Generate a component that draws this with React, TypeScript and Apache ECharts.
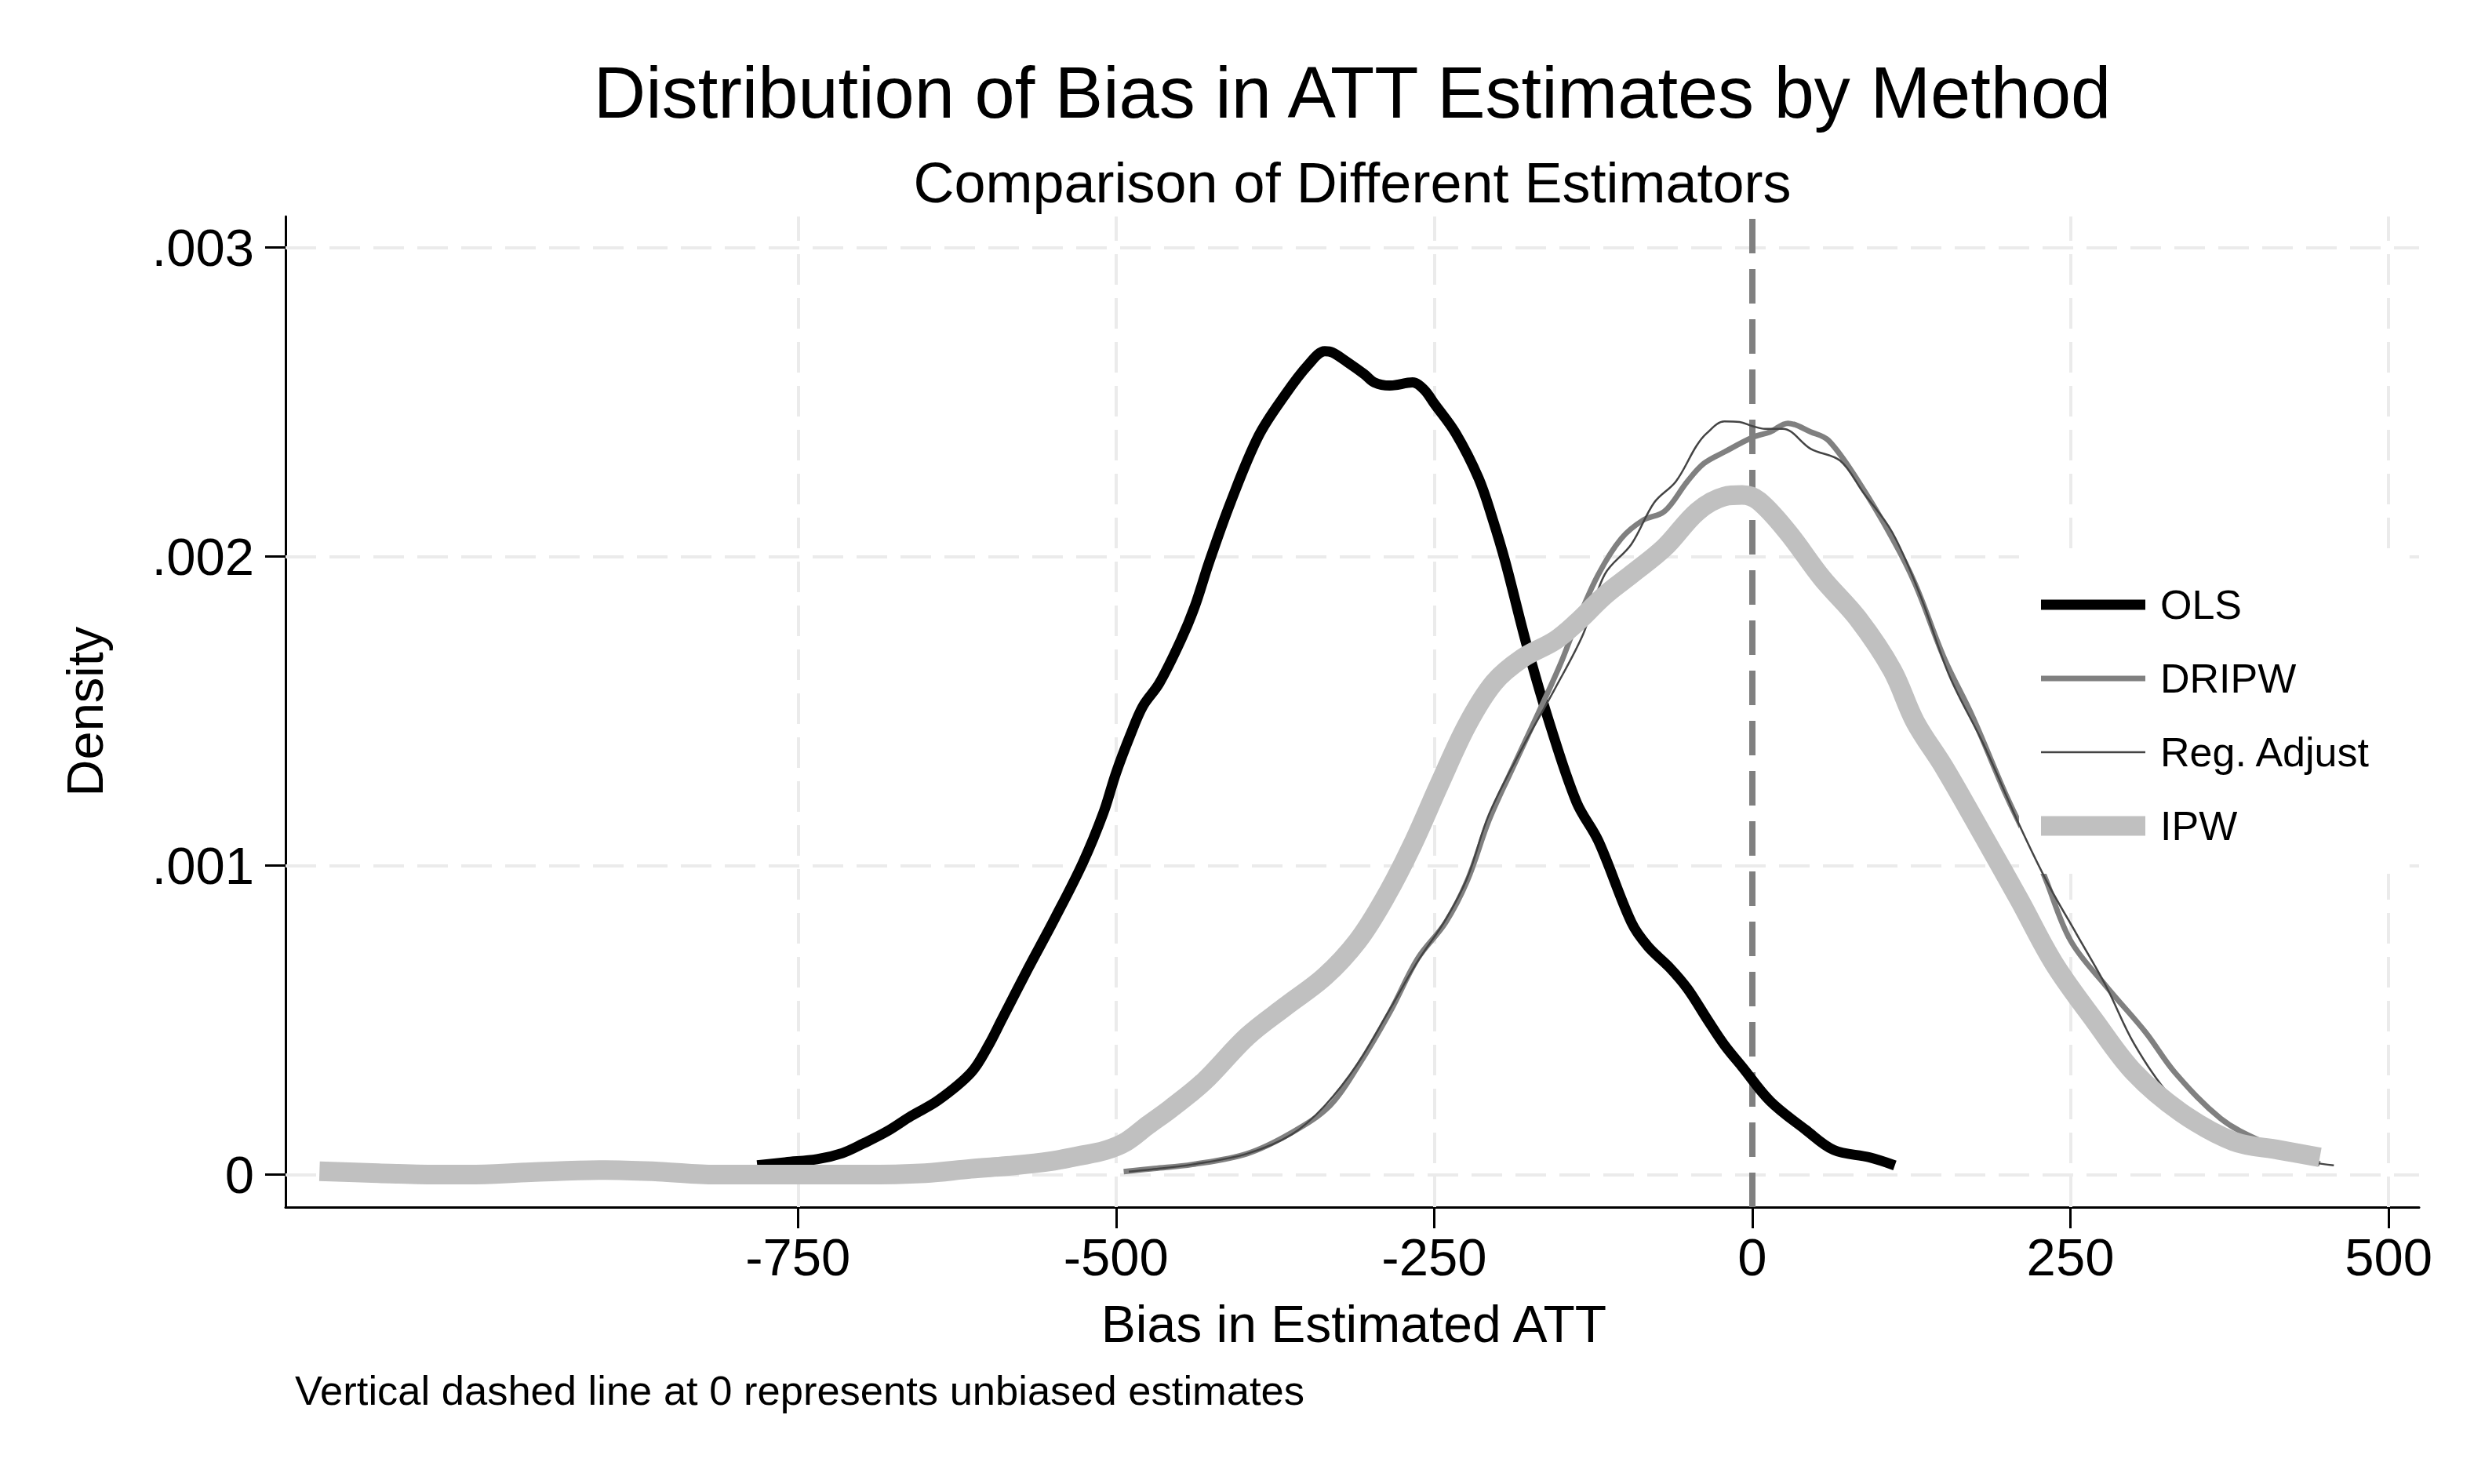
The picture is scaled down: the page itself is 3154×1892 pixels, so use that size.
import React, { useEffect, useRef } from "react";
import * as echarts from "echarts";

// ---------- data ----------
const methodNames = ["OLS", "DRIPW", "Reg. Adjust", "IPW"];

const xTickValues = [-750, -500, -250, 0, 250, 500];
const yTickValues = [0, 0.001, 0.002, 0.003];

const olsPoints: [number, number][] = [
  [-782, 0.00003], [-760, 0.00004], [-735, 0.00005], [-715, 0.00007], [-699, 0.0001],
  [-680, 0.00014], [-661, 0.00019], [-640, 0.00024], [-614, 0.00033], [-600, 0.00042],
  [-590, 0.0005], [-570, 0.00066], [-548, 0.00083], [-526, 0.00101], [-510, 0.00117],
  [-500, 0.0013], [-489, 0.00142], [-479, 0.001515], [-466, 0.00159], [-449, 0.00173],
  [-438, 0.00184], [-427, 0.00198], [-410, 0.002175], [-388, 0.00239], [-367, 0.002524],
  [-349, 0.00262], [-336, 0.002664], [-330, 0.00266], [-319, 0.002631], [-305, 0.00259],
  [-297, 0.002563], [-285, 0.002553], [-267, 0.002563], [-258, 0.00254], [-250, 0.002495],
  [-233, 0.002398], [-215, 0.002252], [-204, 0.00212], [-194, 0.001981], [-177, 0.001709],
  [-159, 0.001456], [-138, 0.001204], [-121, 0.00108], [-95, 0.000816], [-82, 0.000738],
  [-65, 0.00067], [-51, 0.000602], [-35, 0.0005], [-22, 0.00042], [-8, 0.000349],
  [14, 0.000238], [42, 0.000145], [64, 0.00008], [92, 0.000056], [112, 0.00003],
];

const dripwPoints: [number, number][] = [
  [-494, 0.00001], [-470, 0.00002], [-440, 0.000033], [-397, 0.000068], [-362, 0.000136],
  [-332, 0.000223], [-310, 0.00035], [-285, 0.000524], [-263, 0.000699], [-241, 0.000816],
  [-224, 0.000951], [-207, 0.001146], [-190, 0.001301], [-168, 0.001495], [-151, 0.00165],
  [-138, 0.001786], [-121, 0.001942], [-103, 0.002058], [-86, 0.002117], [-69, 0.002146],
  [-51, 0.002243], [-38, 0.002301], [-22, 0.002338], [0, 0.002385], [14, 0.002403],
  [28, 0.002431], [46, 0.002403], [60, 0.002375], [83, 0.002245], [110, 0.002059],
  [128, 0.001911], [151, 0.001669], [173, 0.001483], [200, 0.001223], [228, 0.000981],
  [250, 0.000758], [278, 0.00061], [309, 0.000461], [332, 0.000331], [368, 0.000182],
  [400, 0.000108], [446, 0.000035],
];

const regAdjPoints: [number, number][] = [
  [-490, 0.00001], [-474, 0.000016], [-440, 0.000033], [-397, 0.000068], [-362, 0.00013],
  [-336, 0.000223], [-310, 0.00036], [-285, 0.000534], [-263, 0.00069], [-241, 0.000825],
  [-224, 0.00096], [-207, 0.001165], [-181, 0.001379], [-155, 0.001573], [-133, 0.001748],
  [-116, 0.001942], [-95, 0.00204], [-77, 0.002175], [-60, 0.002243], [-44, 0.002357],
  [-36, 0.002398], [-22, 0.002437], [-10, 0.002435], [0, 0.002422], [10, 0.002413],
  [24, 0.002413], [46, 0.002348], [69, 0.00231], [87, 0.002208], [110, 0.002078],
  [132, 0.001874], [155, 0.001613], [182, 0.00139], [210, 0.00113], [232, 0.000944],
  [255, 0.000777], [278, 0.00061], [300, 0.000424], [328, 0.000257], [355, 0.000164],
  [400, 0.000099], [427, 0.000052], [457, 0.00003],
];

const ipwPoints: [number, number][] = [
  [-1126, 0.000011], [-1080, 0.000005], [-1031, 0.0], [-1009, 0.0], [-960, 0.000008],
  [-901, 0.000015], [-860, 0.00001], [-815, 0.0], [-760, 0.0], [-699, 0.0],
  [-650, 0.000005], [-614, 0.000019], [-580, 0.00003], [-552, 0.000043], [-530, 0.00006],
  [-509, 0.000078], [-492, 0.000107], [-475, 0.00016], [-457, 0.000214], [-431, 0.000301],
  [-397, 0.000447], [-367, 0.000544], [-336, 0.000641], [-310, 0.000757], [-289, 0.000893],
  [-267, 0.001068], [-246, 0.001262], [-224, 0.001456], [-203, 0.001592], [-181, 0.00167],
  [-155, 0.001728], [-138, 0.001786], [-116, 0.001874], [-95, 0.001942], [-69, 0.002029],
  [-43, 0.002146], [-22, 0.002194], [-8, 0.002199], [5, 0.00218], [28, 0.002078],
  [55, 0.001929], [83, 0.001799], [110, 0.001632], [128, 0.001465], [151, 0.001316],
  [182, 0.001093], [210, 0.000888], [237, 0.000684], [269, 0.000498], [300, 0.000331],
  [337, 0.000201], [378, 0.000108], [414, 0.00008], [446, 0.000056],
];

const seriesPoints = [olsPoints, dripwPoints, regAdjPoints, ipwPoints];

// ---------- styles ----------
const FONT = "'Liberation Sans', Arial, Helvetica, sans-serif";
const lineColors = ["#000000", "#808080", "#444444", "#c0c0c0"];
const lineWidths = [13, 7, 2.5, 25];
const legendIconW = 133;

function barIcon(h: number) {
  return `path://M0,0L${legendIconW},0L${legendIconW},${h}L0,${h}Z`;
}

export default function App() {
  const ref = useRef<HTMLDivElement>(null);

  useEffect(() => {
    if (!ref.current) return;
    const chart = echarts.init(ref.current, undefined, { renderer: "svg" });

    const gridColor = "#ebebeb";
    const gridLines: any[] = [];
    xTickValues
      .filter((v) => v !== 0)
      .forEach((v) => gridLines.push({ xAxis: v }));
    yTickValues.forEach((v) => gridLines.push({ yAxis: v }));
    gridLines.push({
      xAxis: 0,
      lineStyle: { color: "#808080", width: 8, type: [44, 20] },
    });

    const option: any = {
      animation: false,
      backgroundColor: "#ffffff",
      textStyle: { fontFamily: FONT },
      grid: {
        left: 364,
        top: 276,
        right: 70,
        bottom: 353,
        containLabel: false,
        outerBoundsMode: "none",
      },
      xAxis: {
        type: "value",
        min: -1152.7,
        max: 524,
        axisLine: { show: true, onZero: false, lineStyle: { color: "#000", width: 3 } },
        axisTick: {
          show: true,
          customValues: xTickValues,
          length: 27,
          lineStyle: { color: "#000", width: 3 },
        },
        axisLabel: {
          show: true,
          customValues: xTickValues,
          fontSize: 67,
          color: "#000",
          fontFamily: FONT,
          margin: 30,
          formatter: (v: number) => String(v),
        },
        splitLine: { show: false },
      },
      yAxis: {
        type: "value",
        min: -0.000105,
        max: 0.0031,
        axisLine: { show: true, onZero: false, lineStyle: { color: "#000", width: 3 } },
        axisTick: {
          show: true,
          customValues: yTickValues,
          length: 26,
          lineStyle: { color: "#000", width: 3 },
        },
        axisLabel: {
          show: true,
          customValues: yTickValues,
          fontSize: 67,
          color: "#000",
          fontFamily: FONT,
          margin: 40,
          formatter: (v: number) =>
            Math.abs(v) < 1e-12 ? "0" : v.toFixed(3).replace(/^0\./, "."),
        },
        splitLine: { show: false },
      },
      legend: {
        orient: "vertical",
        left: 2574,
        top: 708,
        padding: [37, 49, 35, 28],
        backgroundColor: "#ffffff",
        borderWidth: 0,
        itemWidth: legendIconW,
        itemHeight: 26,
        itemGap: 42,
        symbolKeepAspect: true,
        selectedMode: false,
        textStyle: {
          fontSize: 52,
          color: "#000",
          fontFamily: FONT,
          lineHeight: 50,
          padding: [0, 0, 0, 14],
        },
        data: methodNames.map((n, i) => ({
          name: n,
          icon: barIcon(lineWidths[i]),
          itemStyle: { color: lineColors[i], borderWidth: 0 },
        })),
      },
      graphic: [
        {
          type: "text",
          x: 1724,
          y: 118,
          style: {
            text: "Distribution of Bias in ATT Estimates by Method",
            fontSize: 92,
            fontFamily: FONT,
            fill: "#000",
            align: "center",
            verticalAlign: "middle",
          },
        },
        {
          type: "text",
          x: 1724,
          y: 233,
          style: {
            text: "Comparison of Different Estimators",
            fontSize: 72,
            fontFamily: FONT,
            fill: "#000",
            align: "center",
            verticalAlign: "middle",
          },
        },
        {
          type: "text",
          x: 1726,
          y: 1688,
          style: {
            text: "Bias in Estimated ATT",
            fontSize: 66,
            fontFamily: FONT,
            fill: "#000",
            align: "center",
            verticalAlign: "middle",
          },
        },
        {
          type: "text",
          x: 108,
          y: 907,
          rotation: Math.PI / 2,
          style: {
            text: "Density",
            fontSize: 65,
            fontFamily: FONT,
            fill: "#000",
            align: "center",
            verticalAlign: "middle",
          },
        },
        {
          type: "text",
          x: 376,
          y: 1772,
          style: {
            text: "Vertical dashed line at 0 represents unbiased estimates",
            fontSize: 52.5,
            fontFamily: FONT,
            fill: "#000",
            align: "left",
            verticalAlign: "middle",
          },
        },
      ],
      series: [
        {
          name: "__grid",
          type: "line",
          data: [],
          z: 1,
          silent: true,
          markLine: {
            silent: true,
            z: 1,
            precision: 10,
            symbol: ["none", "none"],
            label: { show: false },
            lineStyle: { color: gridColor, width: 4, type: [39, 17] },
            emphasis: { disabled: true },
            data: gridLines,
          },
        },
        ...methodNames.map((n, i) => ({
          name: n,
          type: "line",
          data: seriesPoints[i],
          showSymbol: false,
          symbol: "none",
          smooth: 0.35,
          z: 2 + i,
          lineStyle: { color: lineColors[i], width: lineWidths[i], cap: "butt", join: "round" },
          itemStyle: { color: lineColors[i] },
          emphasis: { disabled: true },
        })),
      ],
    };

    chart.setOption(option);
    return () => {
      chart.dispose();
    };
  }, []);

  return (
    <div
      ref={ref}
      style={{ position: "fixed", left: 0, top: 0, width: "3154px", height: "1892px", background: "#fff" }}
    />
  );
}
